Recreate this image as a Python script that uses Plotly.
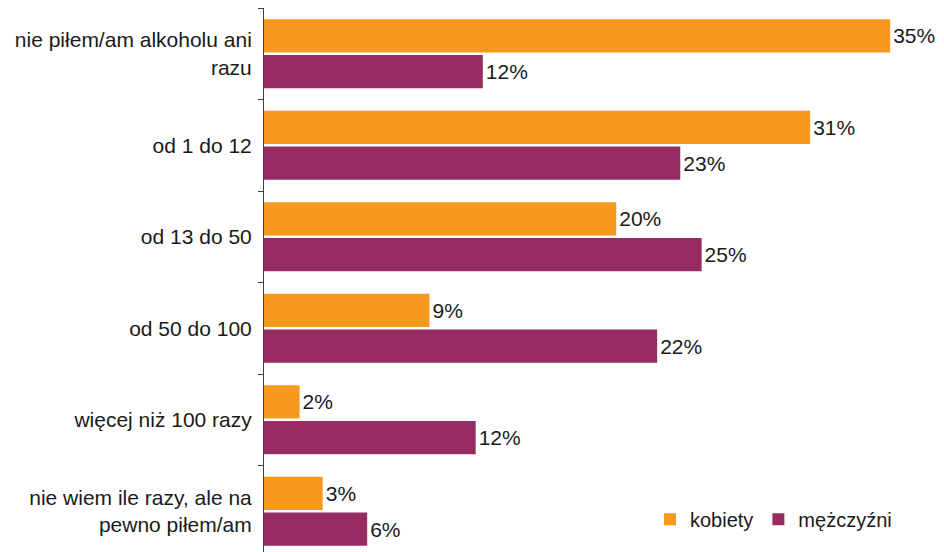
import plotly.graph_objects as go

categories = [
    "nie piłem/am alkoholu ani<br>razu",
    "od 1 do 12",
    "od 13 do 50",
    "od 50 do 100",
    "więcej niż 100 razy",
    "nie wiem ile razy, ale na<br>pewno piłem/am",
]
kobiety = [35.2, 30.7, 19.8, 9.3, 2.0, 3.3]
mezczyzni = [12.3, 23.4, 24.6, 22.1, 11.9, 5.8]
series_names = ["kobiety", "mężczyźni"]
colors = ["#F6991E", "#962C61"]

FONT = "Liberation Sans, Arial, sans-serif"
FS = 21

fig = go.Figure()
for name, vals, col in zip(series_names, [kobiety, mezczyzni], colors):
    fig.add_trace(go.Bar(
        y=categories, x=vals, name=name, orientation="h",
        marker=dict(color=col, line=dict(width=0)),
        text=[f"{v:.0f}%" for v in vals], textposition="outside",
        textfont=dict(family=FONT, size=FS, color="#1a1a1a"),
        cliponaxis=False,
    ))

fig.update_layout(
    width=936, height=544,
    margin=dict(l=256, r=4, t=0, b=0),
    paper_bgcolor="white", plot_bgcolor="white",
    barmode="group", bargap=0.22, bargroupgap=0.07,
    font=dict(family=FONT, size=FS, color="#1a1a1a"),
    legend=dict(orientation="h", x=0.571, y=0.06, xanchor="left", yanchor="middle",
                font=dict(family=FONT, size=20, color="#1a1a1a"),
                bgcolor="rgba(0,0,0,0)", itemwidth=30, traceorder="normal"),
    xaxis=dict(range=[0, 38], visible=False, fixedrange=True, automargin=False),
    yaxis=dict(type="category", range=[5.445, -0.5], showline=True, linecolor="#404040",
               linewidth=1, ticks="outside", ticklen=5, tickcolor="#404040",
               tickson="boundaries", ticklabelstandoff=7, showgrid=False,
               automargin=False,
               tickfont=dict(family=FONT, size=FS, color="#1a1a1a")),
)

fig.write_html("out.html")
